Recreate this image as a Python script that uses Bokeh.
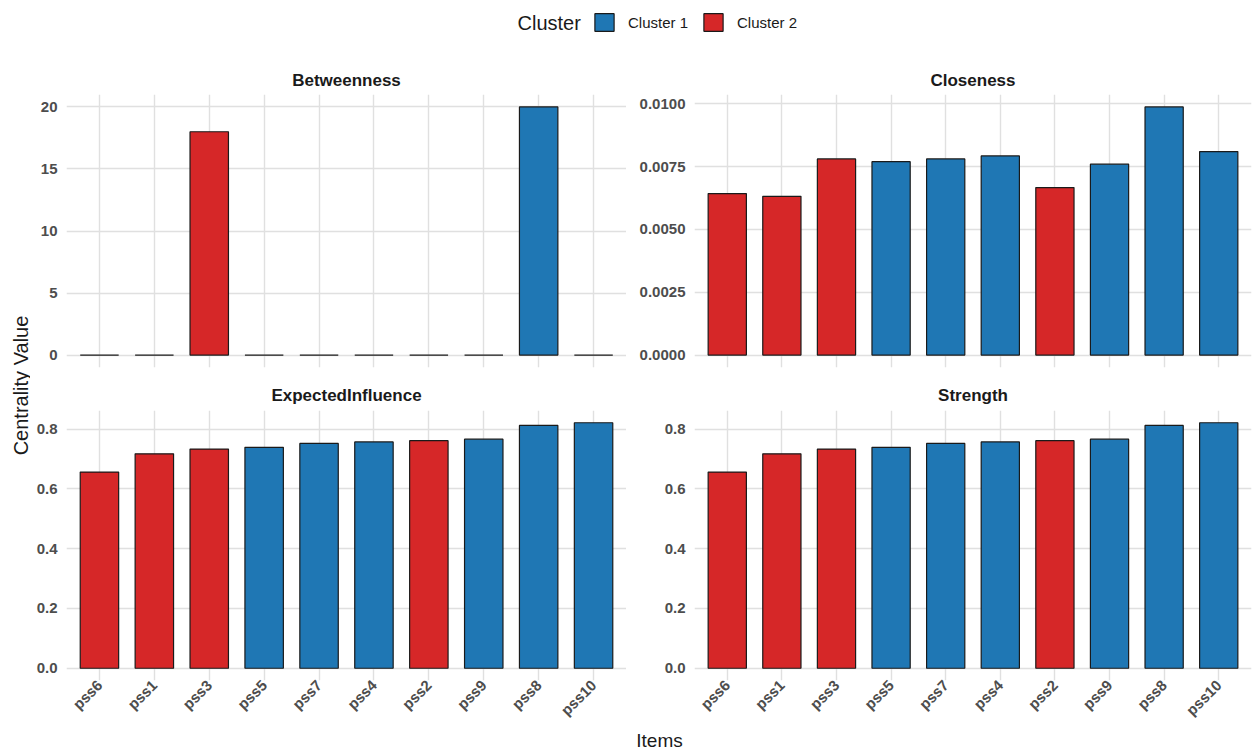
import math

from bokeh.embed import file_html
from bokeh.layouts import column, row
from bokeh.models import (ColumnDataSource, FactorRange, FixedTicker, Label,
                          Legend, LegendItem, PrintfTickFormatter, Range1d)
from bokeh.plotting import figure
from bokeh.resources import INLINE

# ---- data -------------------------------------------------------------
items = ["pss6", "pss1", "pss3", "pss5", "pss7", "pss4", "pss2", "pss9", "pss8", "pss10"]
clusters = ["Cluster 2", "Cluster 2", "Cluster 2", "Cluster 1", "Cluster 1",
            "Cluster 1", "Cluster 2", "Cluster 1", "Cluster 1", "Cluster 1"]
betweenness = [0, 0, 18, 0, 0, 0, 0, 0, 20, 0]
closeness = [0.00643, 0.00632, 0.00781, 0.00770, 0.00781,
             0.00793, 0.00667, 0.00760, 0.00988, 0.00810]
expected_influence = [0.656, 0.717, 0.733, 0.739, 0.752,
                      0.757, 0.761, 0.766, 0.812, 0.821]
strength = [0.656, 0.717, 0.733, 0.739, 0.752,
            0.757, 0.761, 0.766, 0.812, 0.821]

betweenness_ticks = [0, 5, 10, 15, 20]
closeness_ticks = [0.0, 0.0025, 0.005, 0.0075, 0.01]
influence_ticks = [0.0, 0.2, 0.4, 0.6, 0.8]

cluster_names = ["Cluster 1", "Cluster 2"]
cluster_colors = {"Cluster 1": "#1F77B4", "Cluster 2": "#D62728"}

# ---- styling ----------------------------------------------------------
FONT = "Liberation Sans"
GRID = "#E0E0E0"
EDGE = "#1A1A1A"
TICK_TEXT = "#4D4D4D"

LEFT_STRIP = 30          # column holding the shared y title
LEGEND_H = 62
TOP_ROW_H = 316
BOT_ROW_H = 351
XLAB_H = 22


def panel(title, values, ticks, fmt, frame_w, border_l, border_r,
          height, border_t, border_b, show_x, title_gap):
    top = max(values)
    pad = top * 0.05
    src = ColumnDataSource(dict(
        item=items, val=values,
        color=[cluster_colors[c] for c in clusters],
    ))
    p = figure(
        x_range=FactorRange(*items, range_padding=0.02, range_padding_units="percent"),
        y_range=Range1d(-pad, top + pad),
        width=border_l + frame_w + border_r, height=height,
        min_border_left=border_l, min_border_right=border_r,
        min_border_top=border_t, min_border_bottom=border_b,
        output_backend="svg", toolbar_location=None,
        x_axis_location="below" if show_x else None,
    )
    p.vbar(x="item", top="val", bottom=0, width=0.7, source=src,
           fill_color="color", line_color=EDGE, line_width=1.2)

    p.title.text = title
    p.title.align = "center"
    p.title.text_font = FONT
    p.title.text_font_size = "17px"
    p.title.text_font_style = "bold"
    p.title.text_color = "#1A1A1A"
    p.title.standoff = title_gap

    p.outline_line_color = None
    p.yaxis.ticker = FixedTicker(ticks=ticks)
    p.ygrid.ticker = FixedTicker(ticks=ticks)
    p.yaxis.formatter = PrintfTickFormatter(format=fmt)
    for ax in p.axis:
        ax.axis_line_color = None
        ax.major_tick_line_color = None
        ax.minor_tick_line_color = None
        ax.major_tick_out = 0
        ax.minor_tick_out = 0
        ax.major_label_text_font = FONT
        ax.major_label_text_font_size = "15px"
        ax.major_label_text_font_style = "bold"
        ax.major_label_text_color = TICK_TEXT
        ax.major_label_standoff = 9
    if show_x:
        p.xaxis.major_label_orientation = math.pi / 4
        p.xaxis.major_label_standoff = 2
    for g in p.grid:
        g.grid_line_color = GRID
        g.grid_line_width = 1.4
    return p


tl = panel("Betweenness", betweenness, betweenness_ticks, "%d",
           560, 36, 0, TOP_ROW_H, 32, 11, False, 9)
tr = panel("Closeness", closeness, closeness_ticks, "%.4f",
           557, 68, 2, TOP_ROW_H, 32, 11, False, 9)
bl = panel("ExpectedInfluence", expected_influence, influence_ticks, "%.1f",
           560, 36, 0, BOT_ROW_H, 31, 49, True, 11)
br = panel("Strength", strength, influence_ticks, "%.1f",
           557, 68, 2, BOT_ROW_H, 31, 49, True, 11)

# ---- legend strip -------------------------------------------------------
lg = figure(width=1253, height=LEGEND_H, x_range=Range1d(0, 1253), y_range=Range1d(0, LEGEND_H),
            min_border=0, output_backend="svg", toolbar_location=None,
            x_axis_location=None, y_axis_location=None)
lg.outline_line_color = None
lg.grid.visible = False
# key swatches: renderers parked outside the visible range, used only by the legend
swatches = [lg.vbar(x=[-500], top=[-500], bottom=[-501], width=1,
                    fill_color=cluster_colors[c], line_color=EDGE, line_width=1.2)
            for c in cluster_names]
legend = Legend(
    items=[LegendItem(label=c, renderers=[r]) for c, r in zip(cluster_names, swatches)],
    orientation="horizontal", location=(592, 29),
    glyph_width=24, glyph_height=22, label_standoff=12, spacing=13,
    padding=0, margin=0, border_line_color=None, background_fill_alpha=0,
    label_text_font=FONT, label_text_font_size="15px", label_text_color="#1A1A1A",
)
lg.add_layout(legend)
lg.add_layout(Label(x=517, y=40, text="Cluster", text_font=FONT,
                    text_font_size="20px", text_baseline="middle", text_color="#1A1A1A"))

# ---- shared axis titles ---------------------------------------------
ylab = figure(width=LEFT_STRIP, height=TOP_ROW_H + BOT_ROW_H,
              x_range=Range1d(0, LEFT_STRIP), y_range=Range1d(0, TOP_ROW_H + BOT_ROW_H),
              min_border=0, output_backend="svg", toolbar_location=None,
              x_axis_location=None, y_axis_location=None)
ylab.outline_line_color = None
ylab.grid.visible = False
ylab.add_layout(Label(x=20, y=TOP_ROW_H + BOT_ROW_H - 323, text="Centrality Value",
                      angle=math.pi / 2, text_font=FONT, text_font_size="20px",
                      text_align="center", text_baseline="middle", text_color="#1A1A1A"))

xlab = figure(width=1253, height=XLAB_H, x_range=Range1d(0, 1253), y_range=Range1d(0, XLAB_H),
              min_border=0, output_backend="svg", toolbar_location=None,
              x_axis_location=None, y_axis_location=None)
xlab.outline_line_color = None
xlab.grid.visible = False
xlab.add_layout(Label(x=659, y=11, text="Items", text_font=FONT,
                      text_font_size="19px", text_align="center",
                      text_baseline="middle", text_color="#1A1A1A"))

layout = column(
    lg,
    row(ylab, column(row(tl, tr), row(bl, br))),
    xlab,
)

with open("out.html", "w") as f:
    f.write(file_html(layout, INLINE))
